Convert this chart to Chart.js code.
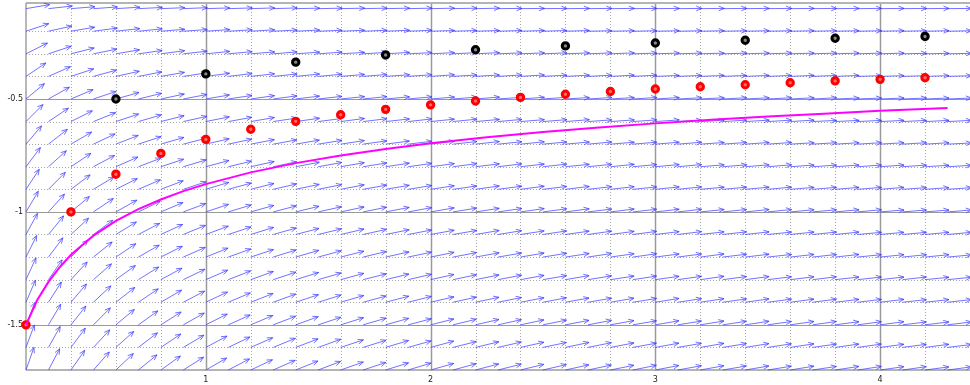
<!DOCTYPE html>
<html><head><meta charset="utf-8">
<script src="https://cdn.jsdelivr.net/npm/chart.js@4.4.1/dist/chart.umd.min.js"></script>
<style>html,body{margin:0;padding:0;background:#fff;overflow:hidden}canvas{display:block}</style>
</head><body>
<canvas id="c" width="970" height="385"></canvas>
<script>
// axis ranges and tick labels
const xMin = 0.2, xMax = 4.4, yMin = -1.7, yMax = -0.075;
const xLabels = [1, 2, 3, 4];
const yLabels = [-0.5, -1, -1.5];
const xGridStep = 0.2, yGridStep = 0.1;

// magenta solution curve
const curveX = [0.2,0.25,0.3,0.35,0.4,0.5,0.6,0.7,0.8,0.9,1.0,1.2,1.4,1.6,1.8,2.0,2.25,2.5,2.75,3.0,3.25,3.5,3.75,4.0,4.3];
const curveY = [-1.5,-1.39,-1.31,-1.245,-1.19,-1.105,-1.04,-0.988,-0.945,-0.908,-0.877,-0.825,-0.784,-0.75,-0.721,-0.696,-0.669,-0.646,-0.626,-0.608,-0.592,-0.578,-0.565,-0.552,-0.54];

// red points
const redX = [0.2,0.4,0.6,0.8,1.0,1.2,1.4,1.6,1.8,2.0,2.2,2.4,2.6,2.8,3.0,3.2,3.4,3.6,3.8,4.0,4.2];
const redY = [-1.5,-1.0,-0.833,-0.741,-0.679,-0.634,-0.599,-0.570,-0.546,-0.526,-0.509,-0.493,-0.479,-0.467,-0.456,-0.446,-0.437,-0.428,-0.420,-0.413,-0.406];

// black points
const blackX = [0.6,1.0,1.4,1.8,2.2,2.6,3.0,3.4,3.8,4.2];
const blackY = [-0.5,-0.389,-0.337,-0.305,-0.282,-0.265,-0.252,-0.240,-0.231,-0.223];

// direction field: arrow tails and slopes (rows = fieldY, cols = fieldX)
const fieldX = [0.2,0.3,0.4,0.5,0.6,0.7,0.8,0.9,1.0,1.1,1.2,1.3,1.4,1.5,1.6,1.7,1.8,1.9,2.0,2.1,2.2,2.3,2.4,2.5,2.6,2.7,2.8,2.9,3.0,3.1,3.2,3.3,3.4,3.5,3.6,3.7,3.8,3.9,4.0,4.1,4.2,4.3];
const fieldY = [-0.1,-0.2,-0.3,-0.4,-0.5,-0.6,-0.7,-0.8,-0.9,-1.0,-1.1,-1.2,-1.3,-1.4,-1.5,-1.6,-1.7];
const fieldSlope = [
[0.17,0.11,0.08,0.07,0.06,0.05,0.04,0.04,0.03,0.03,0.03,0.03,0.02,0.02,0.02,0.02,0.02,0.02,0.02,0.02,0.02,0.01,0.01,0.01,0.01,0.01,0.01,0.01,0.01,0.01,0.01,0.01,0.01,0.01,0.01,0.01,0.01,0.01,0.01,0.01,0.01,0.01],
[0.33,0.22,0.17,0.13,0.11,0.10,0.08,0.07,0.07,0.06,0.06,0.05,0.05,0.04,0.04,0.04,0.04,0.04,0.03,0.03,0.03,0.03,0.03,0.03,0.03,0.02,0.02,0.02,0.02,0.02,0.02,0.02,0.02,0.02,0.02,0.02,0.02,0.02,0.02,0.02,0.02,0.02],
[0.5,0.33,0.25,0.2,0.17,0.14,0.13,0.11,0.1,0.09,0.08,0.08,0.07,0.07,0.06,0.06,0.06,0.05,0.05,0.05,0.05,0.04,0.04,0.04,0.04,0.04,0.04,0.03,0.03,0.03,0.03,0.03,0.03,0.03,0.03,0.03,0.03,0.03,0.03,0.02,0.02,0.02],
[0.67,0.44,0.33,0.27,0.22,0.19,0.17,0.15,0.13,0.12,0.11,0.10,0.10,0.09,0.08,0.08,0.07,0.07,0.07,0.06,0.06,0.06,0.06,0.05,0.05,0.05,0.05,0.05,0.04,0.04,0.04,0.04,0.04,0.04,0.04,0.04,0.04,0.03,0.03,0.03,0.03,0.03],
[0.83,0.56,0.42,0.33,0.28,0.24,0.21,0.19,0.17,0.15,0.14,0.13,0.12,0.11,0.10,0.10,0.09,0.09,0.08,0.08,0.08,0.07,0.07,0.07,0.06,0.06,0.06,0.06,0.06,0.05,0.05,0.05,0.05,0.05,0.05,0.05,0.04,0.04,0.04,0.04,0.04,0.04],
[1.0,0.67,0.5,0.4,0.33,0.29,0.25,0.22,0.2,0.18,0.17,0.15,0.14,0.13,0.13,0.12,0.11,0.11,0.1,0.1,0.09,0.09,0.08,0.08,0.08,0.07,0.07,0.07,0.07,0.06,0.06,0.06,0.06,0.06,0.06,0.05,0.05,0.05,0.05,0.05,0.05,0.05],
[1.17,0.78,0.58,0.47,0.39,0.33,0.29,0.26,0.23,0.21,0.19,0.18,0.17,0.16,0.15,0.14,0.13,0.12,0.12,0.11,0.11,0.10,0.10,0.09,0.09,0.09,0.08,0.08,0.08,0.08,0.07,0.07,0.07,0.07,0.06,0.06,0.06,0.06,0.06,0.06,0.06,0.05],
[1.33,0.89,0.67,0.53,0.44,0.38,0.33,0.30,0.27,0.24,0.22,0.21,0.19,0.18,0.17,0.16,0.15,0.14,0.13,0.13,0.12,0.12,0.11,0.11,0.10,0.10,0.10,0.09,0.09,0.09,0.08,0.08,0.08,0.08,0.07,0.07,0.07,0.07,0.07,0.07,0.06,0.06],
[1.5,1.0,0.75,0.6,0.5,0.43,0.38,0.33,0.3,0.27,0.25,0.23,0.21,0.2,0.19,0.18,0.17,0.16,0.15,0.14,0.14,0.13,0.13,0.12,0.12,0.11,0.11,0.10,0.10,0.10,0.09,0.09,0.09,0.09,0.08,0.08,0.08,0.08,0.08,0.07,0.07,0.07],
[1.67,1.11,0.83,0.67,0.56,0.48,0.42,0.37,0.33,0.30,0.28,0.26,0.24,0.22,0.21,0.20,0.19,0.18,0.17,0.16,0.15,0.14,0.14,0.13,0.13,0.12,0.12,0.11,0.11,0.11,0.10,0.10,0.10,0.10,0.09,0.09,0.09,0.09,0.08,0.08,0.08,0.08],
[1.83,1.22,0.92,0.73,0.61,0.52,0.46,0.41,0.37,0.33,0.31,0.28,0.26,0.24,0.23,0.22,0.20,0.19,0.18,0.17,0.17,0.16,0.15,0.15,0.14,0.14,0.13,0.13,0.12,0.12,0.11,0.11,0.11,0.10,0.10,0.10,0.10,0.09,0.09,0.09,0.09,0.09],
[2.0,1.33,1.0,0.8,0.67,0.57,0.5,0.44,0.4,0.36,0.33,0.31,0.29,0.27,0.25,0.24,0.22,0.21,0.2,0.19,0.18,0.17,0.17,0.16,0.15,0.15,0.14,0.14,0.13,0.13,0.13,0.12,0.12,0.11,0.11,0.11,0.11,0.10,0.10,0.10,0.10,0.09],
[2.17,1.44,1.08,0.87,0.72,0.62,0.54,0.48,0.43,0.39,0.36,0.33,0.31,0.29,0.27,0.25,0.24,0.23,0.22,0.21,0.20,0.19,0.18,0.17,0.17,0.16,0.15,0.15,0.14,0.14,0.14,0.13,0.13,0.12,0.12,0.12,0.11,0.11,0.11,0.11,0.10,0.10],
[2.33,1.56,1.17,0.93,0.78,0.67,0.58,0.52,0.47,0.42,0.39,0.36,0.33,0.31,0.29,0.27,0.26,0.25,0.23,0.22,0.21,0.20,0.19,0.19,0.18,0.17,0.17,0.16,0.16,0.15,0.15,0.14,0.14,0.13,0.13,0.13,0.12,0.12,0.12,0.11,0.11,0.11],
[2.5,1.67,1.25,1.0,0.83,0.71,0.63,0.56,0.5,0.45,0.42,0.38,0.36,0.33,0.31,0.29,0.28,0.26,0.25,0.24,0.23,0.22,0.21,0.2,0.19,0.19,0.18,0.17,0.17,0.16,0.16,0.15,0.15,0.14,0.14,0.14,0.13,0.13,0.13,0.12,0.12,0.12],
[2.67,1.78,1.33,1.07,0.89,0.76,0.67,0.59,0.53,0.48,0.44,0.41,0.38,0.36,0.33,0.31,0.30,0.28,0.27,0.25,0.24,0.23,0.22,0.21,0.21,0.20,0.19,0.18,0.18,0.17,0.17,0.16,0.16,0.15,0.15,0.14,0.14,0.14,0.13,0.13,0.13,0.12],
[2.83,1.89,1.42,1.13,0.94,0.81,0.71,0.63,0.57,0.52,0.47,0.44,0.40,0.38,0.35,0.33,0.31,0.30,0.28,0.27,0.26,0.25,0.24,0.23,0.22,0.21,0.20,0.20,0.19,0.18,0.18,0.17,0.17,0.16,0.16,0.15,0.15,0.15,0.14,0.14,0.13,0.13]
];

const near = (a, b) => Math.abs(a - b) < 1e-6;
const isMajorX = v => xLabels.some(l => near(l, v));
const isMajorY = v => yLabels.some(l => near(l, v));

const fieldPlugin = {
  id: 'fieldPlugin',
  beforeDatasetsDraw(chart) {
    const { ctx, chartArea: a, scales: { x, y } } = chart;
    ctx.save();
    const hLine = (py) => { ctx.beginPath(); ctx.moveTo(a.left, py); ctx.lineTo(a.right, py); ctx.stroke(); };
    const vLine = (px) => { ctx.beginPath(); ctx.moveTo(px, a.top); ctx.lineTo(px, a.bottom); ctx.stroke(); };
    // dotted minor grid
    ctx.lineWidth = 1; ctx.strokeStyle = '#a8a8a8'; ctx.setLineDash([1, 2]);
    x.ticks.forEach(t => {
      if (isMajorX(t.value)) return;
      const px = Math.round(x.getPixelForValue(t.value)) + 0.5;
      if (px <= a.left + 2 || px >= a.right - 2) return;
      vLine(px);
    });
    y.ticks.forEach(t => {
      if (isMajorY(t.value)) return;
      const py = Math.round(y.getPixelForValue(t.value)) + 0.5;
      if (py <= a.top + 2 || py >= a.bottom - 2) return;
      hLine(py);
    });
    ctx.setLineDash([]);
    // major grid
    ctx.strokeStyle = '#9a9a9a'; ctx.lineWidth = 1.5;
    xLabels.forEach(v => vLine(Math.round(x.getPixelForValue(v)) + 0.5));
    ctx.lineWidth = 1.2;
    yLabels.forEach(v => hLine(Math.round(y.getPixelForValue(v)) + 0.5));
    // frame
    ctx.strokeStyle = '#b4b4b4'; ctx.lineWidth = 2;
    hLine(a.top); hLine(a.bottom);
    ctx.strokeStyle = '#a0a0a0'; ctx.lineWidth = 1.5;
    ctx.beginPath(); ctx.moveTo(a.left, a.top); ctx.lineTo(a.left, a.bottom); ctx.stroke();
    // arrows
    const L = 24, H = 6, ang = 0.4;
    ctx.strokeStyle = 'rgba(60,60,255,0.72)'; ctx.lineWidth = 1;
    fieldY.forEach((fy, i) => {
      fieldX.forEach((fx, j) => {
        const s = fieldSlope[i][j];
        const px0 = x.getPixelForValue(fx), py0 = y.getPixelForValue(fy);
        const dx = x.getPixelForValue(fx + 0.1) - px0;
        const dy = y.getPixelForValue(fy + s * 0.1) - py0;
        const n = Math.hypot(dx, dy);
        const ux = dx / n, uy = dy / n;
        const ex = px0 + ux * L, ey = py0 + uy * L;
        ctx.beginPath();
        ctx.moveTo(px0, py0); ctx.lineTo(ex, ey);
        const th = Math.atan2(uy, ux);
        ctx.moveTo(ex - H * Math.cos(th - ang), ey - H * Math.sin(th - ang));
        ctx.lineTo(ex, ey);
        ctx.lineTo(ex - H * Math.cos(th + ang), ey - H * Math.sin(th + ang));
        ctx.stroke();
      });
    });
    ctx.restore();
  }
};

const pts = (xs, ys) => xs.map((v, i) => ({ x: v, y: ys[i] }));
const zeroPad = s => { s.paddingLeft = 0; s.paddingRight = 0; s.paddingTop = 0; s.paddingBottom = 0; };

new Chart(document.getElementById('c'), {
  type: 'scatter',
  data: {
    datasets: [
      { data: pts(curveX, curveY), showLine: true, borderColor: '#ff00ff', borderWidth: 2, pointRadius: 0, tension: 0, fill: false },
      { data: pts(blackX, blackY), pointRadius: 3.2, borderWidth: 3, borderColor: '#000000', backgroundColor: '#888888', clip: false },
      { data: pts(redX, redY), pointRadius: 3.2, borderWidth: 3, borderColor: '#ff0000', backgroundColor: '#ff6a6a', clip: false }
    ]
  },
  options: {
    responsive: false, animation: false, devicePixelRatio: 1,
    layout: { autoPadding: false, padding: { top: 3, left: 0, right: 0, bottom: 0 } },
    plugins: { legend: { display: false }, tooltip: { enabled: false } },
    scales: {
      x: {
        type: 'linear', min: xMin, max: xMax,
        grid: { display: false, drawTicks: false }, border: { display: false },
        ticks: {
          stepSize: xGridStep, autoSkip: false, maxRotation: 0, padding: 5,
          font: { family: 'DejaVu Sans', size: 8 }, color: '#222',
          callback: v => { const l = xLabels.find(q => near(q, v)); return l === undefined ? '' : String(l); }
        },
        afterFit(s) { s.height = 15; zeroPad(s); }
      },
      y: {
        type: 'linear', min: yMin, max: yMax,
        grid: { display: false, drawTicks: false }, border: { display: false },
        ticks: {
          stepSize: yGridStep, autoSkip: false, padding: 3,
          font: { family: 'DejaVu Sans', size: 8 }, color: '#222',
          callback: v => { const l = yLabels.find(q => near(q, v)); return l === undefined ? '' : String(l); }
        },
        afterFit(s) { s.width = 26; zeroPad(s); }
      }
    }
  },
  plugins: [fieldPlugin]
});
</script>
</body></html>
